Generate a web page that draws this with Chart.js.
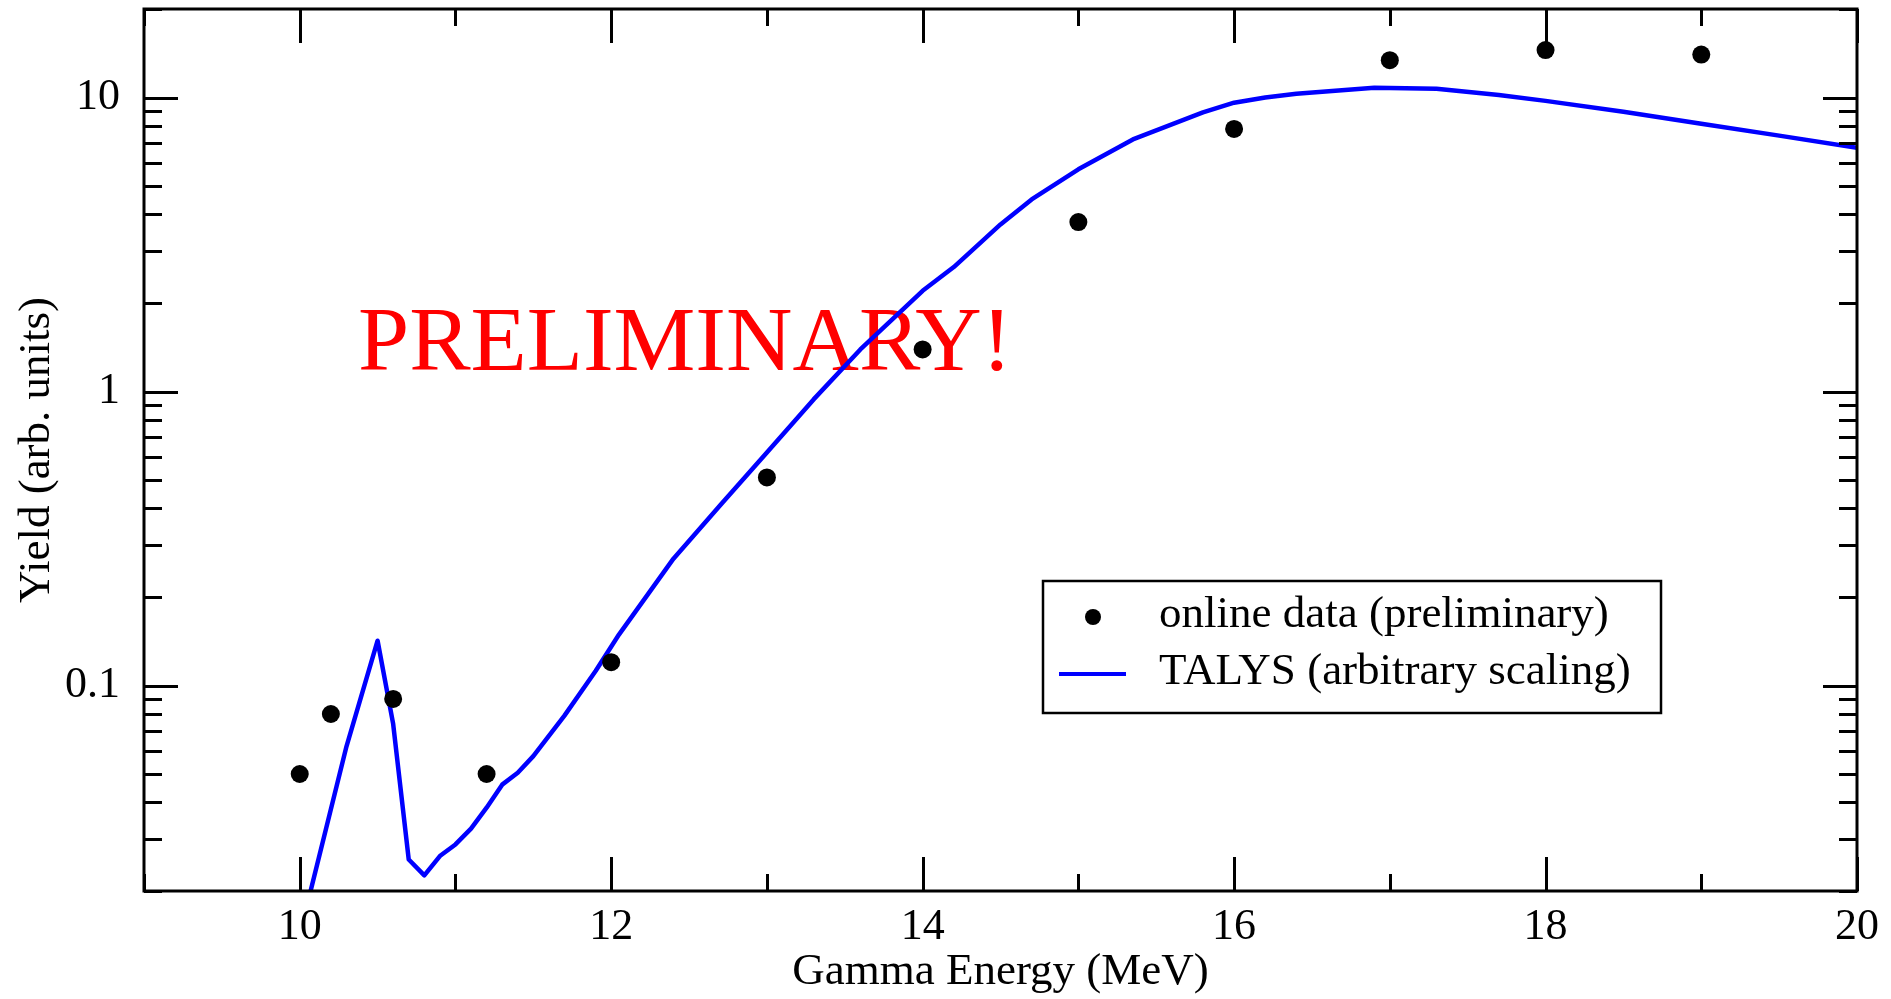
<!DOCTYPE html>
<html>
<head>
<meta charset="utf-8">
<title>Yield vs Gamma Energy</title>
<script src="https://cdn.jsdelivr.net/npm/chart.js@4.4.1/dist/chart.umd.min.js"></script>
<style>
  html, body { margin: 0; padding: 0; background: #fff; }
  #wrap { width: 1891px; height: 999px; }
</style>
</head>
<body>
<div id="wrap"><canvas id="yieldChart" width="1891" height="999"></canvas></div>
<script>
// ---- data ----
const dataEnergy = [10, 10.2, 10.6, 11.2, 12, 13, 14, 15, 16, 17, 18, 19];
const dataYield  = [0.05, 0.08, 0.09, 0.05, 0.12, 0.51, 1.39, 3.77, 7.82, 13.4, 14.5, 14.0];

const talysEnergy = [10.0, 10.3, 10.5, 10.6, 10.7, 10.8, 10.9, 11.0, 11.1, 11.2, 11.3, 11.4, 11.5,
                     11.7, 11.9, 12.05, 12.4, 12.7, 13.0, 13.3, 13.6, 14.0, 14.2, 14.5, 14.7, 15.0,
                     15.35, 15.8, 16.0, 16.2, 16.4, 16.9, 17.3, 17.7, 18.0, 18.5, 19.0, 19.5, 20.0];
const talysYield  = [0.0142, 0.062, 0.142, 0.074, 0.0256, 0.0226, 0.0263, 0.0288, 0.0326, 0.0384, 0.046, 0.0505, 0.0575,
                     0.079, 0.112, 0.149, 0.27, 0.41, 0.62, 0.94, 1.39, 2.2, 2.65, 3.7, 4.5, 5.7,
                     7.2, 8.9, 9.6, 10.0, 10.3, 10.8, 10.7, 10.2, 9.74, 8.95, 8.14, 7.42, 6.74];

const xTicks = [10, 12, 14, 16, 18, 20];
const yTicks = [0.1, 1, 10];
const yTickLabels = ['0.1', '1', '10'];

const seriesLabels = ['online data (preliminary)', 'TALYS (arbitrary scaling)'];
const xTitle = 'Gamma Energy (MeV)';
const yTitle = 'Yield (arb. units)';
const stamp = 'PRELIMINARY!';

const FONT = "'Liberation Serif', 'Times New Roman', serif";

// frame, inward ticks (all four sides), stamp text and legend
const decorPlugin = {
    id: 'decor',
    beforeDatasetsDraw(chart) {
        const ctx = chart.ctx;
        const a = chart.chartArea;
        ctx.save();
        ctx.fillStyle = '#ff0000';
        ctx.font = '92px ' + FONT;
        ctx.textBaseline = 'alphabetic';
        ctx.textAlign = 'left';
        ctx.fillText(stamp, a.left + 214, a.top + 361);
        ctx.restore();
    },
    afterDatasetsDraw(chart) {
        const ctx = chart.ctx;
        const a = chart.chartArea;
        const xs = chart.scales.x;
        const ys = chart.scales.y;
        ctx.save();
        ctx.strokeStyle = '#000';
        ctx.lineWidth = 3;
        ctx.lineCap = 'butt';

        ctx.beginPath();
        // x ticks: major every 2, minor every 1
        for (let v = Math.ceil(xs.min); v <= xs.max; v++) {
            const px = Math.round(xs.getPixelForValue(v)) + 0.5;
            const len = (v % 2 === 0) ? 34 : 17;
            ctx.moveTo(px, a.bottom); ctx.lineTo(px, a.bottom - len);
            ctx.moveTo(px, a.top); ctx.lineTo(px, a.top + len);
        }
        // y ticks: log decades + minor 2..9
        for (let d = -2; d <= 1; d++) {
            for (let m = 1; m <= 9; m++) {
                const v = m * Math.pow(10, d);
                if (v < ys.min || v > ys.max) continue;
                const py = Math.round(ys.getPixelForValue(v)) + 0.5;
                const len = (m === 1) ? 34 : 18;
                ctx.moveTo(a.left, py); ctx.lineTo(a.left + len, py);
                ctx.moveTo(a.right, py); ctx.lineTo(a.right - len, py);
            }
        }
        ctx.stroke();

        ctx.strokeRect(a.left, a.top, a.right - a.left, a.bottom - a.top);

        // legend box
        const lx = a.right - 814, ly = a.top + 572, lw = 618, lh = 132;
        ctx.fillStyle = '#fff';
        ctx.fillRect(lx, ly, lw, lh);
        ctx.lineWidth = 2.5;
        ctx.strokeRect(lx, ly, lw, lh);

        ctx.fillStyle = '#000';
        ctx.beginPath();
        ctx.arc(lx + 50, ly + 36, 8, 0, Math.PI * 2);
        ctx.fill();

        ctx.strokeStyle = '#0000ff';
        ctx.lineWidth = 4;
        ctx.beginPath();
        ctx.moveTo(lx + 16, ly + 93);
        ctx.lineTo(lx + 83, ly + 93);
        ctx.stroke();

        ctx.fillStyle = '#000';
        ctx.font = '45px ' + FONT;
        ctx.textBaseline = 'middle';
        ctx.textAlign = 'left';
        ctx.fillText(seriesLabels[0], lx + 116, ly + 34);
        ctx.fillText(seriesLabels[1], lx + 116, ly + 91);
        ctx.restore();
    }
};

const ctx = document.getElementById('yieldChart');
new Chart(ctx, {
    type: 'scatter',
    data: {
        datasets: [{
            label: seriesLabels[0],
            data: dataEnergy.map((x, i) => ({ x: x, y: dataYield[i] })),
            backgroundColor: '#000',
            borderColor: '#000',
            pointRadius: 9,
            pointHoverRadius: 9,
            pointBorderWidth: 0,
            showLine: false
        }, {
            label: seriesLabels[1],
            type: 'line',
            data: talysEnergy.map((x, i) => ({ x: x, y: talysYield[i] })),
            borderColor: '#0000ff',
            backgroundColor: '#0000ff',
            borderWidth: 4.5,
            pointRadius: 0,
            tension: 0,
            borderJoinStyle: 'round',
            fill: false
        }]
    },
    options: {
        responsive: false,
        animation: false,
        devicePixelRatio: 1,
        layout: { padding: { left: 10, right: 34, top: 9, bottom: 0 } },
        plugins: {
            legend: { display: false },
            tooltip: { enabled: false }
        },
        scales: {
            x: {
                type: 'linear',
                min: 9,
                max: 20,
                grid: { display: false },
                border: { display: false },
                afterBuildTicks: (s) => { s.ticks = xTicks.map(v => ({ value: v })); },
                afterFit: (s) => { s.height = 108; s.paddingLeft = 0; s.paddingRight = 0; },
                ticks: {
                    color: '#000',
                    padding: 6,
                    maxRotation: 0,
                    font: { family: FONT, size: 44, lineHeight: 1 },
                    callback: (v) => String(v)
                },
                title: {
                    display: true,
                    text: xTitle,
                    color: '#000',
                    padding: 0,
                    font: { family: FONT, size: 45, lineHeight: 1.2 }
                }
            },
            y: {
                type: 'logarithmic',
                min: 0.02,
                max: 20,
                grid: { display: false },
                border: { display: false },
                afterBuildTicks: (s) => { s.ticks = yTicks.map(v => ({ value: v })); },
                afterFit: (s) => { s.width = 134; s.paddingTop = 0; s.paddingBottom = 0; },
                ticks: {
                    color: '#000',
                    padding: 16,
                    font: { family: FONT, size: 44, lineHeight: 1 },
                    callback: (v) => {
                        const i = yTicks.indexOf(v);
                        return i >= 0 ? yTickLabels[i] : '';
                    }
                },
                title: {
                    display: true,
                    text: yTitle,
                    color: '#000',
                    padding: 0,
                    font: { family: FONT, size: 45, lineHeight: 1.2 }
                }
            }
        }
    },
    plugins: [decorPlugin]
});
</script>
</body>
</html>
